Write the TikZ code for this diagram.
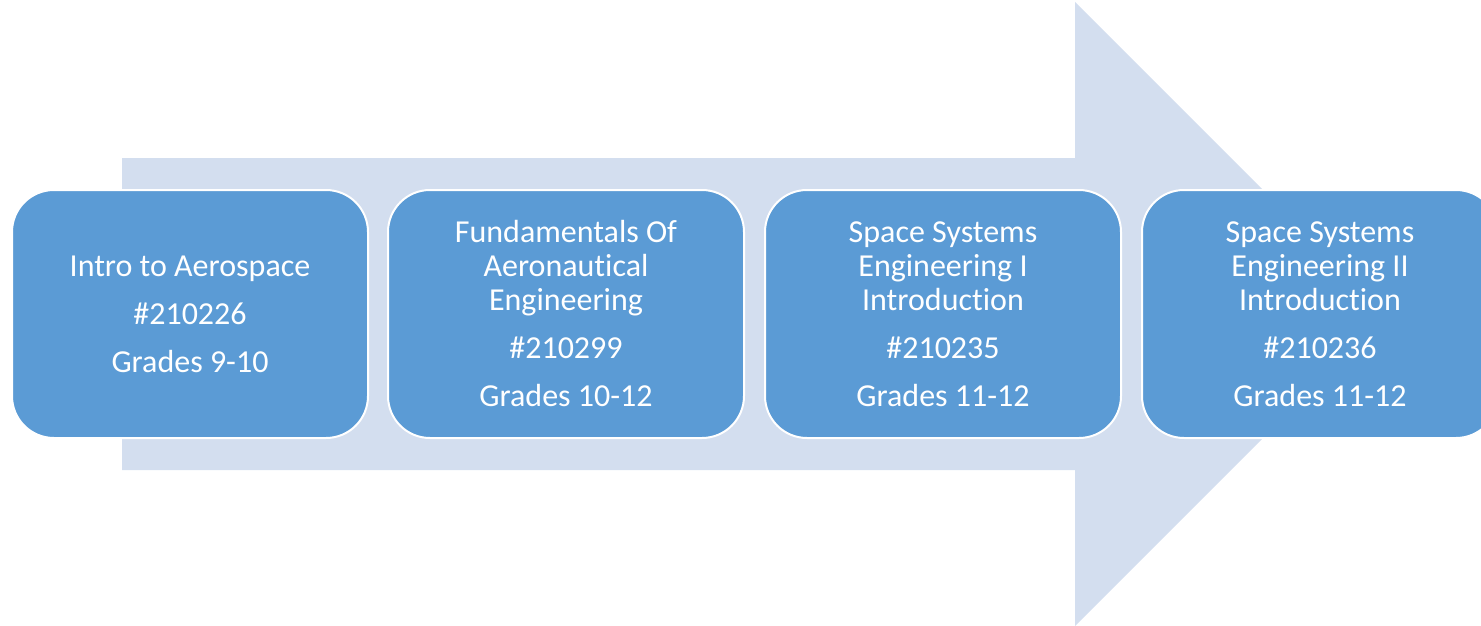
\documentclass[tikz,border=0pt]{standalone}
\usepackage{fontspec}
\setmainfont{Carlito}[Ligatures=NoCommon]
\usepackage{xcolor}
\definecolor{arrowfill}{HTML}{D3DEEF}
\definecolor{boxfill}{HTML}{5B9BD5}

\begin{document}
\begin{tikzpicture}[x=1pt, y=-1pt,
    course/.style={draw=white, line width=2pt, fill=boxfill, rounded corners=42pt,
      minimum width=356pt, minimum height=248pt, inner sep=0pt, align=center,
      text=white, font=\fontsize{32}{34}\selectfont}]
  \useasboundingbox (0,0) rectangle (1481,626);
  \clip (0,0) rectangle (1481,626);
  % big arrow behind the courses
  \fill[arrowfill] (122,158) -- (1075,158) -- (1075,2) -- (1387,314)
    -- (1075,626) -- (1075,470) -- (122,470) -- cycle;
  \node[course] (intro) at (190,314) {Intro to Aerospace\\[14pt] \#210226\\[14pt] Grades 9-10};
  \node[course] (aero) at (566,314) {Fundamentals Of\\ Aeronautical\\ Engineering\\[14pt] \#210299\\[14pt] Grades 10-12};
  \node[course] (ssone) at (943,314) {Space Systems\\ Engineering I\\ Introduction\\[14pt] \#210235\\[14pt] Grades 11-12};
  \node[course] (sstwo) at (1320,314) {Space Systems\\ Engineering II\\ Introduction\\[14pt] \#210236\\[14pt] Grades 11-12};
\end{tikzpicture}
\end{document}
